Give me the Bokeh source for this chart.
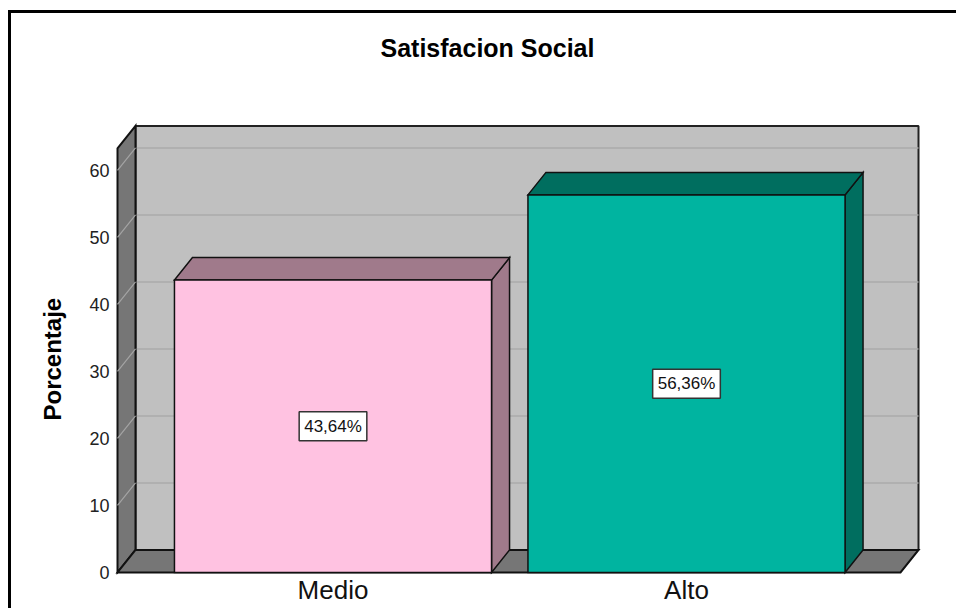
from bokeh.plotting import figure
from bokeh.models import ColumnDataSource, FixedTicker, Range1d, Label, Title
from bokeh.embed import file_html
from bokeh.resources import INLINE

# ---- data ----
categories = ["Medio", "Alto"]
percentages = [43.64, 56.36]
y_ticks = [0, 10, 20, 30, 40, 50, 60]
front_colors = ["#FFC2E1", "#00B4A0"]
shade_colors = ["#A07A8B", "#006E5F"]

# ---- 3D layout constants (style) ----
PX_X = 353.5      # px per category unit
PX_Y = 6.7        # px per percent unit
DX = 18 / PX_X    # depth offset in x
DY = 22.5 / PX_Y  # depth offset in y
BAR_W = 0.897
WALL_L = -0.6096
WALL_R = 1.6054
WALL_TOP = 63.3

W, H = 956, 608
ML, MR, MT, MB = 112, 26, 66, 34
FRAME_W = W - ML - MR
FRAME_H = H - MT - MB
X0 = -0.62376
Y0 = -0.3

p = figure(width=W, height=H, output_backend="svg", toolbar_location=None,
           x_range=Range1d(X0, X0 + FRAME_W / PX_X),
           y_range=Range1d(Y0, Y0 + FRAME_H / PX_Y),
           min_border_left=ML, min_border_right=MR,
           min_border_top=MT, min_border_bottom=MB,
           title="Satisfacion Social",
           styles={"box-shadow": "inset 8px 10px 0 0 #fff, inset 11px 13px 0 0 #000"})
p.border_fill_color = None
p.background_fill_color = None
p.outline_line_color = None
p.grid.visible = False

p.title.align = "left"
p.title.offset = 268
p.title.text_font = "Liberation Sans"
p.title.text_font_size = "25px"
p.title.text_font_style = "bold"
p.title.text_color = "#000000"

# y axis
p.yaxis.ticker = FixedTicker(ticks=y_ticks)
p.yaxis.major_label_text_font = "Liberation Sans"
p.yaxis.major_label_text_font_size = "18px"
p.yaxis.major_label_text_color = "#222222"
p.yaxis.major_label_standoff = -3
p.yaxis.major_tick_line_color = None
p.yaxis.minor_tick_line_color = None
p.yaxis.axis_line_color = None

# y axis title (vertical title on the left side)
p.add_layout(Title(text="Porcentaje", align="left", offset=154, standoff=41,
                   text_font="Liberation Sans", text_font_size="24px",
                   text_font_style="bold", text_color="#000000"), "left")

# x axis
p.xaxis.ticker = FixedTicker(ticks=list(range(len(categories))))
p.xaxis.major_label_overrides = {i: c for i, c in enumerate(categories)}
p.xaxis.major_label_text_font = "Liberation Sans"
p.xaxis.major_label_text_font_size = "26px"
p.xaxis.major_label_text_color = "#111111"
p.xaxis.major_label_standoff = -6
p.xaxis.major_tick_line_color = None
p.xaxis.minor_tick_line_color = None
p.xaxis.axis_line_color = None

# ---- walls ----
p.quad(left=WALL_L + DX, right=WALL_R + DX, bottom=DY, top=WALL_TOP + DY,
       fill_color="#C0C0C0", line_color="#222222", line_width=2)
grid_vals = [t for t in y_ticks if t > 0]
p.segment(x0=[WALL_L + DX] * len(grid_vals), y0=[t + DY for t in grid_vals],
          x1=[WALL_R + DX] * len(grid_vals), y1=[t + DY for t in grid_vals],
          line_color="#ABABAB", line_width=1.5)
p.patch([WALL_L, WALL_L + DX, WALL_L + DX, WALL_L],
        [0, DY, WALL_TOP + DY, WALL_TOP],
        fill_color="#767676", line_color="#111111", line_width=2, line_join="miter")
p.segment(x0=[WALL_L] * len(grid_vals), y0=grid_vals,
          x1=[WALL_L + DX] * len(grid_vals), y1=[t + DY for t in grid_vals],
          line_color="#A4A4A4", line_width=1.2)
p.patch([WALL_L, WALL_R, WALL_R + DX, WALL_L + DX],
        [0, 0, DY, DY],
        fill_color="#767676", line_color="#111111", line_width=2, line_join="miter")

# ---- bars ----
xs_front, ys_front, xs_top, ys_top, xs_side, ys_side = [], [], [], [], [], []
for i, v in enumerate(percentages):
    l, r = i - BAR_W / 2, i + BAR_W / 2
    xs_front.append([l, r, r, l]); ys_front.append([0, 0, v, v])
    xs_top.append([l, r, r + DX, l + DX]); ys_top.append([v, v, v + DY, v + DY])
    xs_side.append([r, r + DX, r + DX, r]); ys_side.append([0, DY, v + DY, v])

src = ColumnDataSource(dict(xf=xs_front, yf=ys_front, xt=xs_top, yt=ys_top,
                            xsd=xs_side, ysd=ys_side,
                            front=front_colors, shade=shade_colors))
p.patches("xsd", "ysd", source=src, fill_color="shade", line_color="#111111",
          line_width=1.5, line_join="miter")
p.patches("xt", "yt", source=src, fill_color="shade", line_color="#111111",
          line_width=1.5, line_join="miter")
p.patches("xf", "yf", source=src, fill_color="front", line_color="#111111",
          line_width=1.5, line_join="miter")

# ---- value labels ----
for i, v in enumerate(percentages):
    txt = f"{v:.2f}".replace(".", ",") + "%"
    p.add_layout(Label(x=i, y=v / 2, text=txt, text_align="center",
                       text_baseline="middle", text_font="Liberation Sans",
                       text_font_size="17px", text_color="#111111",
                       background_fill_color="#FFFFFF",
                       border_line_color="#333333", border_line_width=1.5,
                       padding=5))

open("out.html", "w").write(file_html(p, INLINE))
